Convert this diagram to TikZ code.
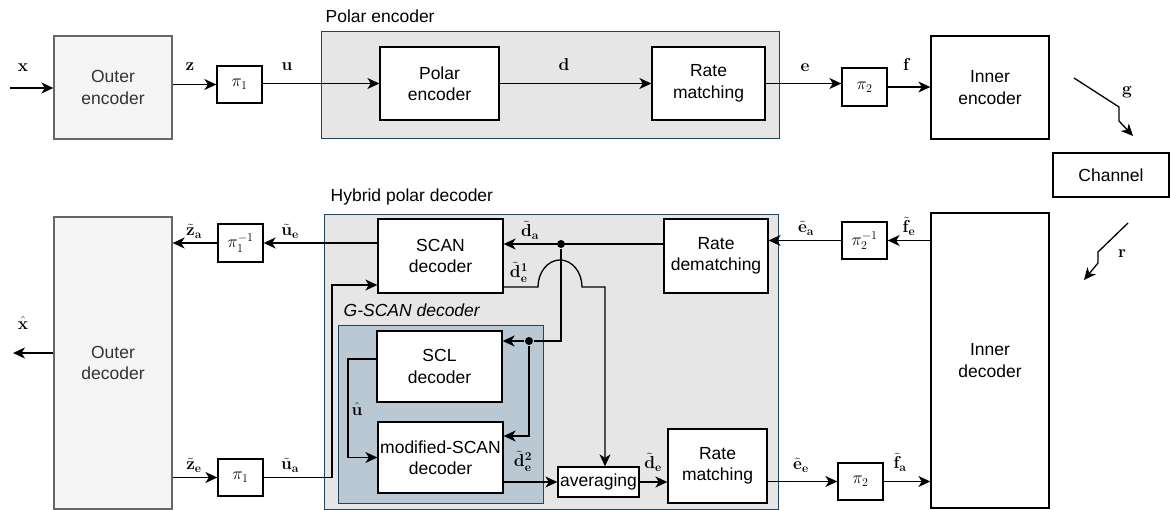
\documentclass[tikz,border=0pt]{standalone}
\usepackage[no-math]{fontspec}
\setsansfont{Liberation Sans}
\usetikzlibrary{arrows.meta}

\definecolor{outerfill}{HTML}{F5F5F5}
\definecolor{outerline}{HTML}{666666}
\definecolor{outertext}{HTML}{333333}
\definecolor{groupfill}{HTML}{E6E6E6}
\definecolor{groupline}{HTML}{23445D}
\definecolor{gscanfill}{HTML}{BAC8D3}

\begin{document}
\begin{tikzpicture}[
    x=1pt, y=-1pt,
    every node/.style={font=\sffamily\fontsize{17.5}{21.5}\selectfont},
    block/.style={draw, fill=white, align=center, inner sep=0pt},
    outerblock/.style={draw=outerline, fill=outerfill, text=outertext, align=center, inner sep=0pt, minimum width=118pt},
    perm/.style={draw, fill=white, inner sep=0pt, minimum width=45pt, minimum height=37pt},
    group/.style={draw=groupline, fill=groupfill, line width=1pt, inner sep=0pt},
    grouptitle/.style={anchor=west, inner sep=0pt},
    sig/.style={inner sep=0pt},
    dot/.style={circle, fill=black, inner sep=0pt, minimum size=8pt},
    line width=1.3pt,
    >={Stealth[length=12pt, width=11pt, inset=3.5pt]}
  ]
  \useasboundingbox (0,0) rectangle (1170,510);

  % Groups
  \node[group, minimum width=458pt, minimum height=107pt] (pencgrp) at (550,85.5) {};
  \node[grouptitle] (penctitle) at (325,16) {Polar encoder};
  \node[group, minimum width=454pt, minimum height=294pt] (hdecgrp) at (551,362) {};
  \node[grouptitle] (hdectitle) at (330,197) {Hybrid polar decoder};
  \node[group, fill=gscanfill, minimum width=205pt, minimum height=177pt] (gscangrp) at (440.5,414.5) {};
  \node[grouptitle] (gscantitle) at (343,310) {\itshape G-SCAN decoder};

  % Encoder chain
  \node[outerblock, minimum height=103pt] (outenc) at (113,87.5) {Outer\\encoder};
  \node[perm] (pienc1) at (239.5,84.5) {$\pi_1$};
  \node[block, minimum width=119pt, minimum height=73pt] (polenc) at (439.5,83.5) {Polar\\encoder};
  \node[block, minimum width=113pt, minimum height=73pt] (ratematch) at (708.5,83.5) {Rate\\matching};
  \node[perm, minimum height=38pt] (pienc2) at (864.5,87) {$\pi_2$};
  \node[block, minimum width=118pt, minimum height=103pt] (inenc) at (990,87.5) {Inner\\encoder};
  \node[block, minimum width=116pt, minimum height=44pt] (channel) at (1111,175) {Channel};

  % Decoder chain
  \node[outerblock, minimum height=292pt] (outdec) at (113,363) {Outer\\decoder};
  \node[perm, minimum height=38pt] (pidec1) at (240.5,243) {$\pi_1^{-1}$};
  \node[perm] (pienc1b) at (240.5,477.5) {$\pi_1$};
  \node[block, minimum width=125pt, minimum height=74pt] (scan) at (440.5,256) {SCAN\\decoder};
  \node[block, minimum width=104pt, minimum height=74pt] (ratedem) at (716,256) {Rate\\dematching};
  \node[perm] (pidec2) at (864.5,240.5) {$\pi_2^{-1}$};
  \node[block, minimum width=118pt, minimum height=295pt] (indec) at (990,360.5) {Inner\\decoder};
  \node[block, minimum width=125pt, minimum height=71pt] (scl) at (439.5,366.5) {SCL\\decoder};
  \node[block, minimum width=125pt, minimum height=71pt] (mscan) at (440.5,457.5) {modified-SCAN\\decoder};
  \node[block, minimum width=81pt, minimum height=30pt] (avg) at (598.5,482) {averaging};
  \node[block, minimum width=99pt, minimum height=74pt] (ratematchb) at (717.5,466) {Rate\\matching};
  \node[perm] (pienc2b) at (860.5,481.5) {$\pi_2$};

  % Free ends
  \coordinate (xin) at (10,88);
  \coordinate (xout) at (13,353);
  \coordinate (g1) at (1074,78);
  \coordinate (g2) at (1119,107);
  \coordinate (g3) at (1119,121);
  \coordinate (g4) at (1133,136);
  \coordinate (r1) at (1128,223);
  \coordinate (r2) at (1098,252);
  \coordinate (r3) at (1098,263);
  \coordinate (r4) at (1084,280);

  % Encoder connectors
  \draw[->] (xin) -- (xin -| outenc.west);
  \draw[->] (outenc.east |- pienc1) -- (pienc1.west);
  \draw[->] (pienc1.east |- polenc) -- (polenc.west);
  \draw[->] (polenc.east) -- (ratematch.west);
  \draw[->] (ratematch.east) -- (ratematch.east -| pienc2.west);
  \draw[->] (pienc2.east) -- (pienc2.east -| inenc.west);
  \draw[->] (g1) -- (g2) -- (g3) -- (g4);
  \draw[->] (r1) -- (r2) -- (r3) -- (r4);

  % Decoder connectors
  \draw[->] (indec.west |- pidec2) -- (pidec2.east);
  \draw[->] (pidec2.west) -- (pidec2.west -| ratedem.east);
  \node[dot] (jda) at (561,244) {};
  \draw[->] (jda -| ratedem.west) -- (jda -| scan.east);
  \node[dot] (jscl) at (529,341) {};
  \draw (jda) |- (jscl);
  \draw[->] (jscl) -- (jscl -| scl.east);
  \draw[->] (jscl) |- ([yshift=21.5pt]mscan.east);
  \draw[->] (scan.west |- pidec1) -- (pidec1.east);
  \draw[->] (pidec1.west) -- (pidec1.west -| outdec.east);
  \draw[->] (outdec.east |- pienc1b) -- (pienc1b.west);
  \coordinate (ua) at (332,285);
  \draw[->] (pienc1b.east) -| (ua) -- (ua -| scan.west);
  \coordinate (uh) at (348,359);
  \draw[->] (uh -| scl.west) -- (uh) |- (mscan.west);
  \coordinate (bl) at (538,287);
  \coordinate (dv) at (605,287);
  \draw[->] (bl -| scan.east) -- (bl) arc[start angle=180, end angle=0, x radius=22pt, y radius=27pt] -- (dv) -- (dv |- avg.north);
  \draw[->] (avg.west -| mscan.east) -- (avg.west);
  \draw[->] (avg.east) -- (avg.east -| ratematchb.west);
  \draw[->] (ratematchb.east |- pienc2b) -- (pienc2b.west);
  \draw[->] (pienc2b.east) -- (pienc2b.east -| indec.west);
  \draw[->] (outdec.west |- xout) -- (xout);

  % Signal labels
  \node[sig] (lx) at (23,68) {$\mathbf{x}$};
  \node[sig] (lz) at (190,67) {$\mathbf{z}$};
  \node[sig] (lu) at (287,67) {$\mathbf{u}$};
  \node[sig] (ld) at (564,65) {$\mathbf{d}$};
  \node[sig] (le) at (805,68) {$\mathbf{e}$};
  \node[sig] (lf) at (907,65) {$\mathbf{f}$};
  \node[sig] (lg) at (1127,92) {$\mathbf{g}$};
  \node[sig] (lr) at (1122,254) {$\mathbf{r}$};
  \node[sig] (lfe) at (909,226) {$\tilde{\mathbf{f}}_{\mathbf{e}}$};
  \node[sig] (lea) at (806,228) {$\tilde{\mathbf{e}}_{\mathbf{a}}$};
  \node[sig] (lda) at (530,230) {$\tilde{\mathbf{d}}_{\mathbf{a}}$};
  \node[sig] (lde1) at (519,272) {$\tilde{\mathbf{d}}_{\mathbf{e}}^{\mathbf{1}}$};
  \node[sig] (lue) at (290,231) {$\tilde{\mathbf{u}}_{\mathbf{e}}$};
  \node[sig] (lza) at (194,231) {$\tilde{\mathbf{z}}_{\mathbf{a}}$};
  \node[sig] (lxh) at (23,323) {$\hat{\mathbf{x}}$};
  \node[sig] (lze) at (194,465) {$\tilde{\mathbf{z}}_{\mathbf{e}}$};
  \node[sig] (lua) at (290,465) {$\tilde{\mathbf{u}}_{\mathbf{a}}$};
  \node[sig] (luh) at (357,409) {$\hat{\mathbf{u}}$};
  \node[sig] (lde2) at (523,461) {$\tilde{\mathbf{d}}_{\mathbf{e}}^{\mathbf{2}}$};
  \node[sig] (lde) at (653,462) {$\tilde{\mathbf{d}}_{\mathbf{e}}$};
  \node[sig] (lee) at (801,465) {$\tilde{\mathbf{e}}_{\mathbf{e}}$};
  \node[sig] (lfa) at (900,462) {$\tilde{\mathbf{f}}_{\mathbf{a}}$};
\end{tikzpicture}
\end{document}
